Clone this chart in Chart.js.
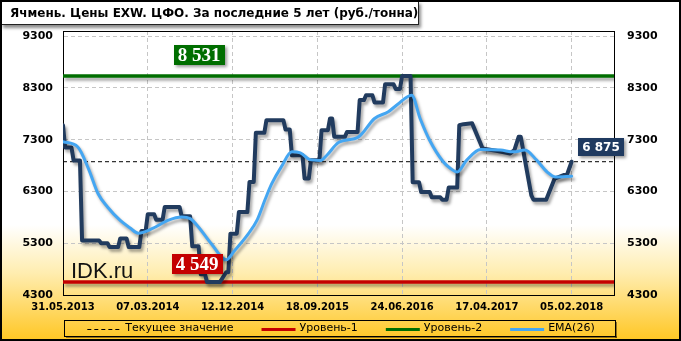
<!DOCTYPE html>
<html><head><meta charset="utf-8">
<script src="https://cdn.jsdelivr.net/npm/chart.js@4.4.1/dist/chart.umd.min.js"></script>
<style>html,body{margin:0;padding:0;background:#fff;}canvas{display:block;}</style>
</head><body>
<canvas id="c" width="681" height="341"></canvas>
<script>
// ---------- data ----------
const titleText = 'Ячмень. Цены EXW. ЦФО. За последние 5 лет (руб./тонна)';
const xTickWeeks = [0, 40, 80, 120, 160, 200, 240];
const xTickLabels = ['31.05.2013', '07.03.2014', '12.12.2014', '18.09.2015', '24.06.2016', '17.04.2017', '05.02.2018'];
const yTickValues = [4300, 5300, 6300, 7300, 8300, 9300];
const priceWeeks = [0, 1, 4, 5, 8, 9, 17, 18, 21, 22, 26, 27, 30, 31, 36, 37, 39, 40, 43, 44, 47, 48, 55, 56, 60, 61, 64, 65, 67, 68, 74, 77, 78, 79, 82, 83, 87, 88, 90, 91, 95, 96, 104, 105, 107, 108, 113, 114, 116, 117, 121, 122, 125, 126, 127, 128, 133, 134, 139, 140, 142, 143, 146, 147, 151, 152, 156, 157, 159, 160, 164, 165, 168, 169, 173, 174, 178, 179, 181, 182, 186, 187, 189, 193, 198, 205, 211, 213, 215, 216, 221, 222, 228, 232, 238, 240];
const priceValues = [7580, 7150, 7150, 6900, 6900, 5355, 5355, 5300, 5300, 5225, 5225, 5390, 5390, 5225, 5225, 5535, 5535, 5860, 5860, 5755, 5755, 6000, 6000, 5820, 5820, 5240, 5240, 4700, 4700, 4549, 4549, 4740, 4740, 5485, 5485, 5903, 5903, 6484, 6484, 7432, 7432, 7678, 7678, 7498, 7498, 7000, 7000, 6550, 6550, 6903, 6903, 7485, 7485, 7710, 7710, 7355, 7355, 7450, 7450, 8065, 8065, 8160, 8160, 8020, 8020, 8370, 8370, 8280, 8280, 8531, 8531, 6480, 6480, 6290, 6290, 6190, 6190, 6140, 6140, 6375, 6375, 7580, 7600, 7620, 7130, 7080, 7035, 7100, 7355, 7355, 6225, 6140, 6140, 6550, 6645, 6875];
const emaWeeks = [0, 7, 12, 16.5, 21, 27, 31.5, 35.5, 42, 49.5, 56, 60, 64, 70, 77, 81, 87.5, 91.5, 95.5, 98.5, 103, 108, 112, 116.5, 121.5, 124.5, 130, 139.5, 147, 153.5, 157.5, 164.5, 168.5, 173, 179.5, 183, 186, 190.5, 197, 206.5, 212.5, 218, 223.5, 228.5, 232.5, 240];
const emaValues = [7260, 7160, 6740, 6260, 6000, 5740, 5600, 5495, 5580, 5740, 5805, 5775, 5610, 5290, 4980, 5160, 5485, 5740, 6160, 6450, 6775, 7065, 7045, 6915, 6900, 7000, 7245, 7355, 7710, 7840, 7970, 8160, 7710, 7290, 6870, 6740, 6675, 6905, 7110, 7100, 7065, 7100, 6905, 6675, 6580, 6595];
const currentValue = 6875;
const level1 = 4549;
const level2 = 8531;
const legendLabels = ['Текущее значение', 'Уровень-1', 'Уровень-2', 'EMA(26)'];
const watermark = 'IDK.ru';

// ---------- styles ----------
const C_PRICE = '#213b5e', C_EMA = '#44a6f2', C_RED = '#c40000', C_GREEN = '#006e00', C_NAVY = '#1f3a60';
const X_MAX = 260;

function fmt(v) { return String(Math.round(v)).replace(/\B(?=(\d{3})+(?!\d))/g, ' '); }
function pts(xs, ys) { return xs.map((x, i) => ({ x: x, y: ys[i] })); }

const bgPlugin = {
  id: 'bg',
  beforeDraw(chart) {
    const ctx = chart.ctx, W = chart.width, H = chart.height;
    const g = ctx.createLinearGradient(0, 0, 0, H);
    g.addColorStop(0, '#ffffff');
    g.addColorStop(0.66, '#ffffff');
    g.addColorStop(0.8, '#ffedb0');
    g.addColorStop(1, '#ffc622');
    ctx.save();
    ctx.fillStyle = g;
    ctx.fillRect(0, 0, W, H);
    ctx.restore();
  },
  beforeDatasetsDraw(chart) {
    const ctx = chart.ctx;
    ctx.save();
    ctx.font = '22px "Liberation Sans", Arial, sans-serif';
    ctx.fillStyle = '#111';
    ctx.textBaseline = 'alphabetic';
    ctx.fillText(watermark, 71, 278);
    ctx.restore();
  },
  beforeDatasetDraw(chart, args) {
    const ds = chart.data.datasets[args.index];
    chart.ctx.save();
    if (ds.shadow) {
      chart.ctx.shadowColor = 'rgba(0,0,0,0.35)';
      chart.ctx.shadowBlur = 3;
      chart.ctx.shadowOffsetX = 2;
      chart.ctx.shadowOffsetY = 3;
    }
  },
  afterDatasetDraw(chart) { chart.ctx.restore(); },
  afterDatasetsDraw(chart) {
    const ctx = chart.ctx, ys = chart.scales.y, ca = chart.chartArea;
    // top border of the plot
    ctx.save();
    ctx.strokeStyle = '#000'; ctx.lineWidth = 1;
    ctx.beginPath(); ctx.moveTo(ca.left, ca.top + 0.5); ctx.lineTo(ca.right, ca.top + 0.5); ctx.stroke();
    ctx.restore();
    function box(text, cx, cy, h, fill, font) {
      ctx.save();
      ctx.font = font;
      const w = ctx.measureText(text).width + 8;
      ctx.shadowColor = 'rgba(0,0,0,0.4)'; ctx.shadowBlur = 3; ctx.shadowOffsetX = 2; ctx.shadowOffsetY = 2;
      ctx.fillStyle = fill;
      ctx.fillRect(Math.round(cx - w / 2), Math.round(cy - h / 2), Math.round(w), h);
      ctx.shadowColor = 'transparent';
      ctx.fillStyle = '#fff';
      ctx.textAlign = 'center'; ctx.textBaseline = 'middle';
      ctx.fillText(text, cx, cy + 1);
      ctx.restore();
    }
    const serif = 'bold 19px "Liberation Serif", "Times New Roman", serif';
    box(fmt(level2), 199, ys.getPixelForValue(level2) - 20.5, 20, C_GREEN, serif);
    box(fmt(level1), 197, ys.getPixelForValue(level1) - 18, 20, C_RED, serif);
    box(fmt(currentValue), 601, ys.getPixelForValue(currentValue) - 14.5, 18, C_NAVY, 'bold 12px "DejaVu Sans", sans-serif');
  },
  afterDraw(chart) {
    const ctx = chart.ctx, W = chart.width, H = chart.height;
    ctx.save();
    // title box
    ctx.shadowColor = 'rgba(0,0,0,0.45)'; ctx.shadowBlur = 3; ctx.shadowOffsetX = 2; ctx.shadowOffsetY = 3;
    ctx.fillStyle = '#fff';
    ctx.fillRect(1, 1, 418, 24);
    ctx.shadowColor = 'transparent';
    ctx.strokeStyle = '#222'; ctx.lineWidth = 1;
    ctx.strokeRect(0.5, 0.5, 418, 24);
    ctx.fillStyle = '#000';
    ctx.font = 'bold 12px "DejaVu Sans", sans-serif';
    ctx.textBaseline = 'middle'; ctx.textAlign = 'left';
    ctx.fillText(titleText, 10, 14);
    // legend box
    const lx = 64, ly = 320, lw = 551, lh = 16;
    ctx.fillStyle = 'rgba(60,40,0,0.55)';
    ctx.fillRect(lx + 2, ly + lh, lw, 2);
    ctx.fillRect(lx + lw, ly + 2, 2, lh);
    ctx.strokeStyle = '#000'; ctx.lineWidth = 1;
    ctx.strokeRect(lx + 0.5, ly + 0.5, lw, lh);
    ctx.font = '11px "DejaVu Sans", sans-serif';
    const styles = [
      { color: '#000', width: 1, dash: [4, 3] },
      { color: C_RED, width: 3, dash: [] },
      { color: C_GREEN, width: 3, dash: [] },
      { color: C_EMA, width: 3, dash: [] }
    ];
    const sample = 34, gap = 4, spacing = 28;
    const widths = legendLabels.map(t => sample + gap + ctx.measureText(t).width);
    const total = widths.reduce((a, b) => a + b, 0) + spacing * (legendLabels.length - 1);
    let x = 341 - total / 2;
    const cy = ly + lh / 2 + 0.5;
    legendLabels.forEach((t, i) => {
      const s = styles[i];
      ctx.save();
      ctx.strokeStyle = s.color; ctx.lineWidth = s.width; ctx.setLineDash(s.dash);
      ctx.beginPath(); ctx.moveTo(x, Math.round(cy) + (s.width % 2 ? 0.5 : 0)); ctx.lineTo(x + sample, Math.round(cy) + (s.width % 2 ? 0.5 : 0)); ctx.stroke();
      ctx.restore();
      ctx.fillStyle = '#000'; ctx.textBaseline = 'middle';
      ctx.fillText(t, x + sample + gap, cy);
      x += widths[i] + spacing;
    });
    // outer border
    ctx.strokeStyle = '#000'; ctx.lineWidth = 2;
    ctx.strokeRect(1, 1, W - 2, H - 2);
    ctx.restore();
  }
};

const tickFontY = { family: 'DejaVu Sans', size: 11, weight: 'bold' };
const gridOpts = { color: '#c6c6c6', lineWidth: 1, drawTicks: false };

new Chart(document.getElementById('c'), {
  type: 'line',
  data: {
    datasets: [
      { label: 'EMA(26)', data: pts(emaWeeks, emaValues), borderColor: C_EMA, borderWidth: 3, pointRadius: 0, cubicInterpolationMode: 'monotone', order: 0, shadow: true, borderCapStyle: 'round' },
      { label: 'price', data: pts(priceWeeks, priceValues), borderColor: C_PRICE, borderWidth: 4, pointRadius: 0, tension: 0, order: 1, shadow: true, borderJoinStyle: 'round', borderCapStyle: 'round' },
      { label: 'Уровень-1', data: [{ x: 0, y: level1 }, { x: X_MAX, y: level1 }], borderColor: C_RED, borderWidth: 3.5, pointRadius: 0, order: 2, shadow: true },
      { label: 'Уровень-2', data: [{ x: 0, y: level2 }, { x: X_MAX, y: level2 }], borderColor: C_GREEN, borderWidth: 3.5, pointRadius: 0, order: 2, shadow: true },
      { label: 'Текущее значение', data: [{ x: 0, y: currentValue }, { x: X_MAX, y: currentValue }], borderColor: '#000', borderWidth: 1, borderDash: [4, 3], pointRadius: 0, order: 3 }
    ]
  },
  options: {
    responsive: false,
    animation: false,
    devicePixelRatio: 1,
    parsing: true,
    layout: { padding: { top: 31, left: 0, right: 0, bottom: 0 } },
    plugins: { legend: { display: false }, title: { display: false }, tooltip: { enabled: false } },
    scales: {
      x: {
        type: 'linear', min: 0, max: X_MAX,
        afterBuildTicks: s => { s.ticks = xTickWeeks.map(v => ({ value: v })); },
        afterFit: s => { s.height = 46; },
        ticks: { callback: v => xTickLabels[xTickWeeks.indexOf(v)], font: { family: 'DejaVu Sans', size: 10, weight: 'bold' }, color: '#000', padding: 6, maxRotation: 0, autoSkip: false },
        grid: gridOpts,
        border: { color: '#000', width: 1, dash: [4, 3] }
      },
      y: {
        type: 'linear', position: 'left', min: 4300, max: 9400,
        afterBuildTicks: s => { s.ticks = yTickValues.map(v => ({ value: v })); },
        afterFit: s => { s.width = 63; },
        ticks: { font: tickFontY, color: '#000', padding: 10, callback: v => String(v) },
        grid: gridOpts,
        border: { color: '#000', width: 1, dash: [4, 3] }
      },
      y2: {
        type: 'linear', position: 'right', min: 4300, max: 9400,
        afterBuildTicks: s => { s.ticks = yTickValues.map(v => ({ value: v })); },
        afterFit: s => { s.width = 67; },
        ticks: { font: tickFontY, color: '#000', padding: 13, callback: v => String(v) },
        grid: { display: false, drawTicks: false },
        border: { color: '#000', width: 1 }
      }
    }
  },
  plugins: [bgPlugin]
});
</script>
</body></html>
